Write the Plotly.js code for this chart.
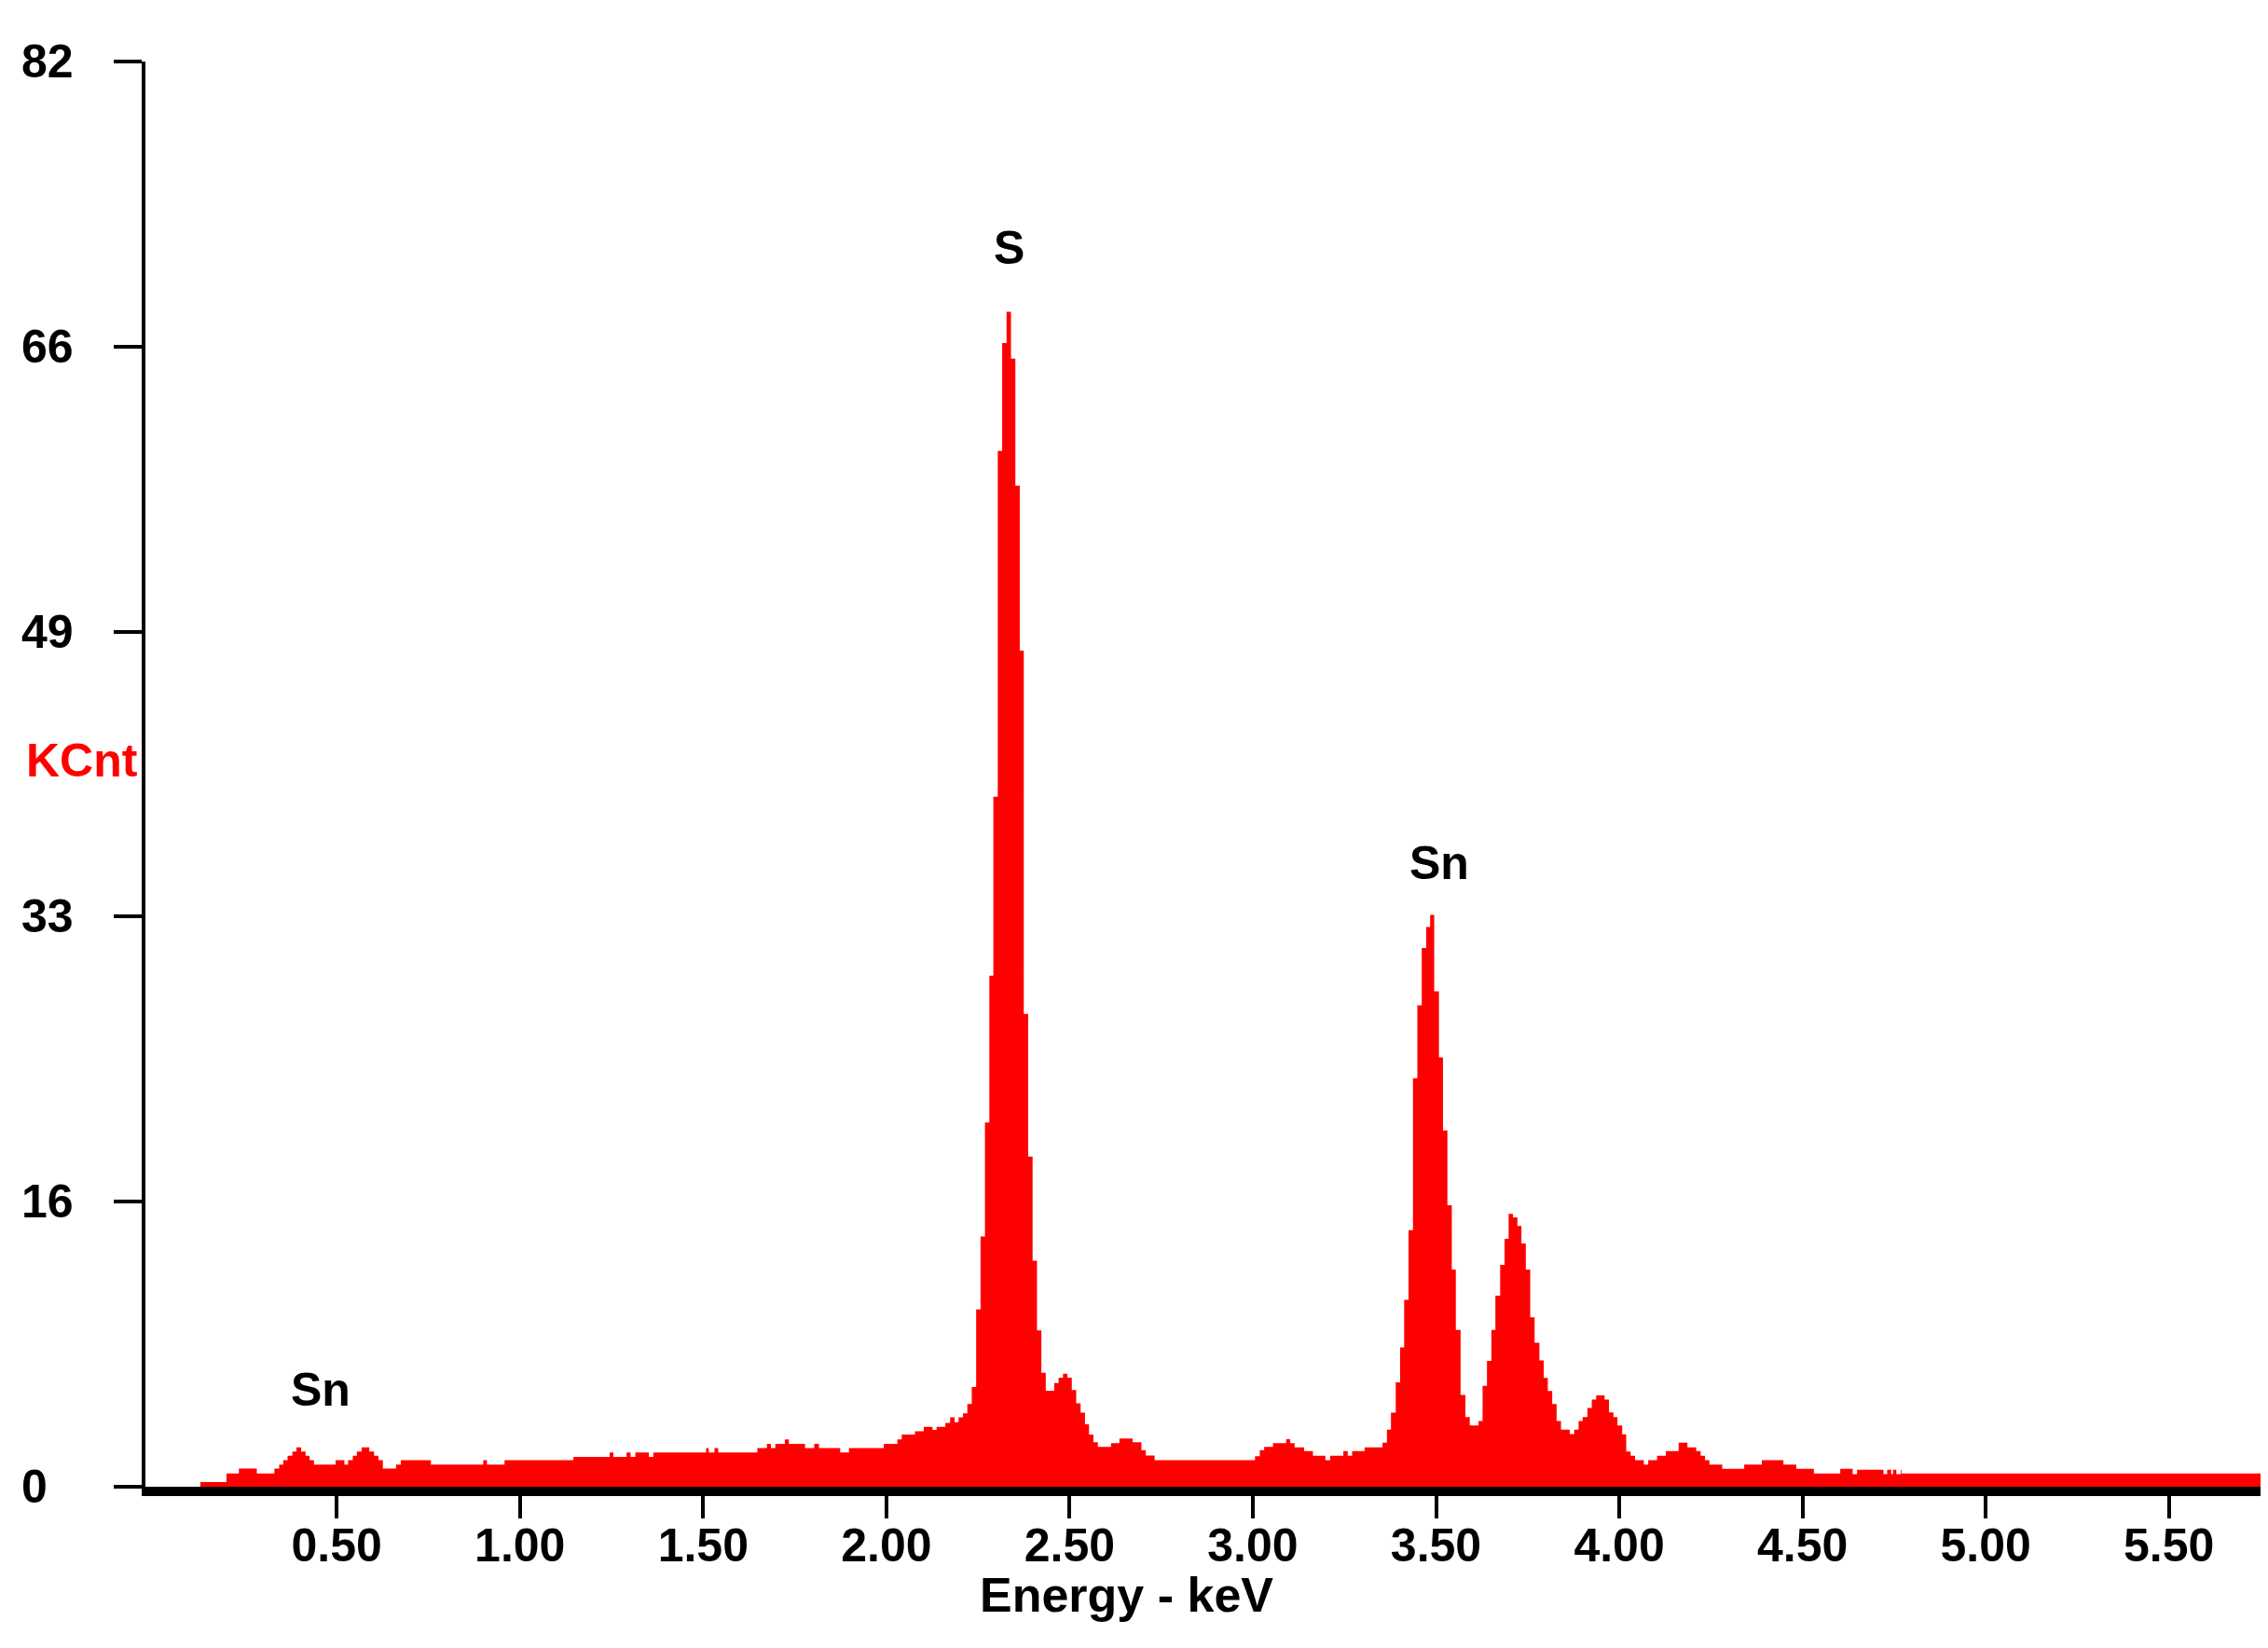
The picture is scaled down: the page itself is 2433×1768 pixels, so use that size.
<!DOCTYPE html>
<html>
<head>
<meta charset="utf-8">
<script src="https://cdn.plot.ly/plotly-3.0.1.min.js"></script>
<style>
  html, body { margin: 0; padding: 0; background: #fff; }
  #plot { width: 2433px; height: 1768px; }
</style>
</head>
<body>
<div id="plot"></div>
<script>
// spectrum as steps: energy (keV) where a level starts, counts (KCnt) of that level
var energy = [
  0.000, 0.128, 0.199, 0.233, 0.282, 0.330, 0.343, 0.354, 0.366, 0.379,
  0.390, 0.403, 0.415, 0.426, 0.438, 0.497, 0.521, 0.531, 0.544, 0.555,
  0.568, 0.589, 0.602, 0.614, 0.626, 0.662, 0.675, 0.757, 0.900, 0.910,
  0.958, 1.146, 1.245, 1.255, 1.291, 1.302, 1.315, 1.352, 1.364, 1.508,
  1.515, 1.531, 1.541, 1.648, 1.674, 1.685, 1.697, 1.723, 1.734, 1.778,
  1.803, 1.816, 1.874, 1.898, 1.993, 2.030, 2.042, 2.078, 2.102, 2.126,
  2.137, 2.161, 2.174, 2.186, 2.197, 2.209, 2.221, 2.233, 2.245, 2.257,
  2.269, 2.281, 2.292, 2.304, 2.316, 2.328, 2.340, 2.352, 2.364, 2.375,
  2.387, 2.399, 2.411, 2.423, 2.435, 2.458, 2.470, 2.482, 2.494, 2.506,
  2.518, 2.530, 2.542, 2.553, 2.565, 2.577, 2.613, 2.636, 2.672, 2.696,
  2.708, 2.732, 3.006, 3.019, 3.031, 3.055, 3.091, 3.102, 3.114, 3.140,
  3.164, 3.198, 3.211, 3.247, 3.259, 3.271, 3.305, 3.354, 3.366, 3.377,
  3.390, 3.402, 3.413, 3.425, 3.437, 3.449, 3.461, 3.473, 3.484, 3.495,
  3.508, 3.519, 3.531, 3.543, 3.554, 3.567, 3.580, 3.592, 3.616, 3.627,
  3.639, 3.651, 3.662, 3.675, 3.687, 3.698, 3.710, 3.722, 3.733, 3.745,
  3.757, 3.769, 3.782, 3.794, 3.805, 3.817, 3.829, 3.841, 3.865, 3.877,
  3.889, 3.900, 3.913, 3.925, 3.937, 3.960, 3.972, 3.984, 3.995, 4.008,
  4.019, 4.031, 4.043, 4.067, 4.079, 4.103, 4.127, 4.162, 4.186, 4.210,
  4.222, 4.234, 4.246, 4.281, 4.341, 4.389, 4.448, 4.483, 4.531, 4.603,
  4.637, 4.649, 4.721, 4.731, 4.742, 4.747, 4.756, 4.768, 4.770, 5.750
];
var counts = [
  0.00, 0.27, 0.77, 1.04, 0.77, 1.04, 1.27, 1.53, 1.78, 2.03,
  2.26, 2.03, 1.78, 1.53, 1.27, 1.53, 1.27, 1.53, 1.78, 2.03,
  2.26, 2.03, 1.78, 1.53, 1.04, 1.27, 1.53, 1.27, 1.53, 1.27,
  1.53, 1.72, 1.97, 1.72, 1.97, 1.72, 1.97, 1.72, 1.97, 2.22,
  1.97, 2.22, 1.97, 2.22, 2.47, 2.22, 2.47, 2.72, 2.47, 2.22,
  2.47, 2.22, 1.97, 2.22, 2.47, 2.72, 3.00, 3.19, 3.45, 3.27,
  3.45, 3.68, 3.99, 3.72, 3.99, 4.22, 4.76, 5.74, 10.2, 14.4,
  20.95, 29.4, 39.7, 59.6, 65.8, 67.6, 64.9, 57.6, 48.1, 27.2,
  19.0, 13.0, 9.0, 6.55, 5.52, 5.97, 6.28, 6.50, 6.28, 5.56,
  4.80, 4.26, 3.59, 3.00, 2.56, 2.29, 2.51, 2.78, 2.56, 2.11,
  1.79, 1.53, 1.75, 2.11, 2.29, 2.51, 2.74, 2.51, 2.26, 2.05,
  1.78, 1.53, 1.78, 2.05, 1.78, 2.05, 2.26, 2.53, 3.28, 4.26,
  6.01, 8.02, 10.75, 14.76, 23.5, 27.7, 31.0, 32.2, 32.9, 28.5,
  24.7, 20.5, 16.2, 12.5, 9.02, 5.28, 4.01, 3.53, 3.78, 5.81,
  7.24, 9.02, 11.0, 12.76, 14.26, 15.7, 15.5, 15.0, 14.0, 12.5,
  9.75, 8.29, 7.27, 6.26, 5.51, 4.76, 3.78, 3.28, 3.03, 3.28,
  3.78, 4.01, 4.53, 5.01, 5.26, 5.01, 4.28, 4.01, 3.53, 3.01,
  2.03, 1.78, 1.53, 1.28, 1.53, 1.78, 2.05, 2.53, 2.26, 2.05,
  1.78, 1.53, 1.28, 1.03, 1.28, 1.53, 1.28, 1.03, 0.77, 1.03,
  0.73, 0.98, 0.73, 0.98, 0.73, 0.98, 0.73, 0.98, 0.77, 0.77
];

var xTickVals = [0.5, 1.0, 1.5, 2.0, 2.5, 3.0, 3.5, 4.0, 4.5, 5.0, 5.5];
var xTickText = ['0.50', '1.00', '1.50', '2.00', '2.50', '3.00', '3.50', '4.00', '4.50', '5.00', '5.50'];
var yTickVals = [0, 16.4, 32.8, 49.2, 65.6, 82];
var yTickText = ['0', '16', '33', '49', '66', '82'];

var peakNames = ['Sn', 'S', 'Sn'];
var peakX = [0.455, 2.336, 3.508];
var peakY = [5.6, 71.3, 35.9];

var fontFam = 'Liberation Sans, Arial, sans-serif';

var trace = {
  type: 'scatter',
  mode: 'lines',
  x: energy,
  y: counts,
  line: {shape: 'hv', width: 0, color: '#FF0000'},
  fill: 'tozeroy',
  fillcolor: '#FF0000',
  hoverinfo: 'skip',
  showlegend: false
};

var annots = [];
yTickText.forEach(function(t, i) {
  annots.push({
    xref: 'paper', yref: 'y', x: -0.0595, y: yTickVals[i],
    xanchor: 'left', yanchor: 'middle', showarrow: false, text: t,
    font: {family: fontFam, size: 50, weight: 700, color: '#000'}
  });
});
peakNames.forEach(function(t, i) {
  annots.push({
    xref: 'x', yref: 'y', x: peakX[i], y: peakY[i],
    xanchor: 'center', yanchor: 'middle', showarrow: false, text: t,
    font: {family: fontFam, size: 50, weight: 700, color: '#000'}
  });
});
annots.push({
  xref: 'paper', yref: 'y', x: -0.0573, y: 41.8,
  xanchor: 'left', yanchor: 'middle', showarrow: false, text: 'KCnt',
  font: {family: fontFam, size: 50, weight: 700, color: '#FF0000'}
});
annots.push({
  xref: 'x', yref: 'paper', x: 2.656, y: -0.076,
  xanchor: 'center', yanchor: 'middle', showarrow: false, text: 'Energy - keV',
  font: {family: fontFam, size: 52, weight: 700, color: '#000'}
});

var layout = {
  width: 2433,
  height: 1768,
  margin: {l: 156, r: 8, t: 66, b: 173},
  paper_bgcolor: '#fff',
  plot_bgcolor: '#fff',
  showlegend: false,
  xaxis: {
    range: [-0.022, 5.75],
    showgrid: false,
    zeroline: false,
    showline: true,
    layer: 'above traces',
    linecolor: '#000',
    linewidth: 10,
    ticks: 'outside',
    ticklen: 24,
    tickwidth: 4,
    tickcolor: '#000',
    tickvals: xTickVals,
    ticktext: xTickText,
    ticklabelstandoff: -14,
    tickfont: {family: fontFam, size: 50, weight: 700, color: '#000'}
  },
  yaxis: {
    range: [0, 82],
    showgrid: false,
    zeroline: false,
    showline: true,
    linecolor: '#000',
    linewidth: 4,
    ticks: 'outside',
    ticklen: 30,
    tickwidth: 4,
    tickcolor: '#000',
    tickvals: yTickVals,
    showticklabels: false
  },
  annotations: annots
};

Plotly.newPlot('plot', [trace], layout, {staticPlot: true});
</script>
</body>
</html>
